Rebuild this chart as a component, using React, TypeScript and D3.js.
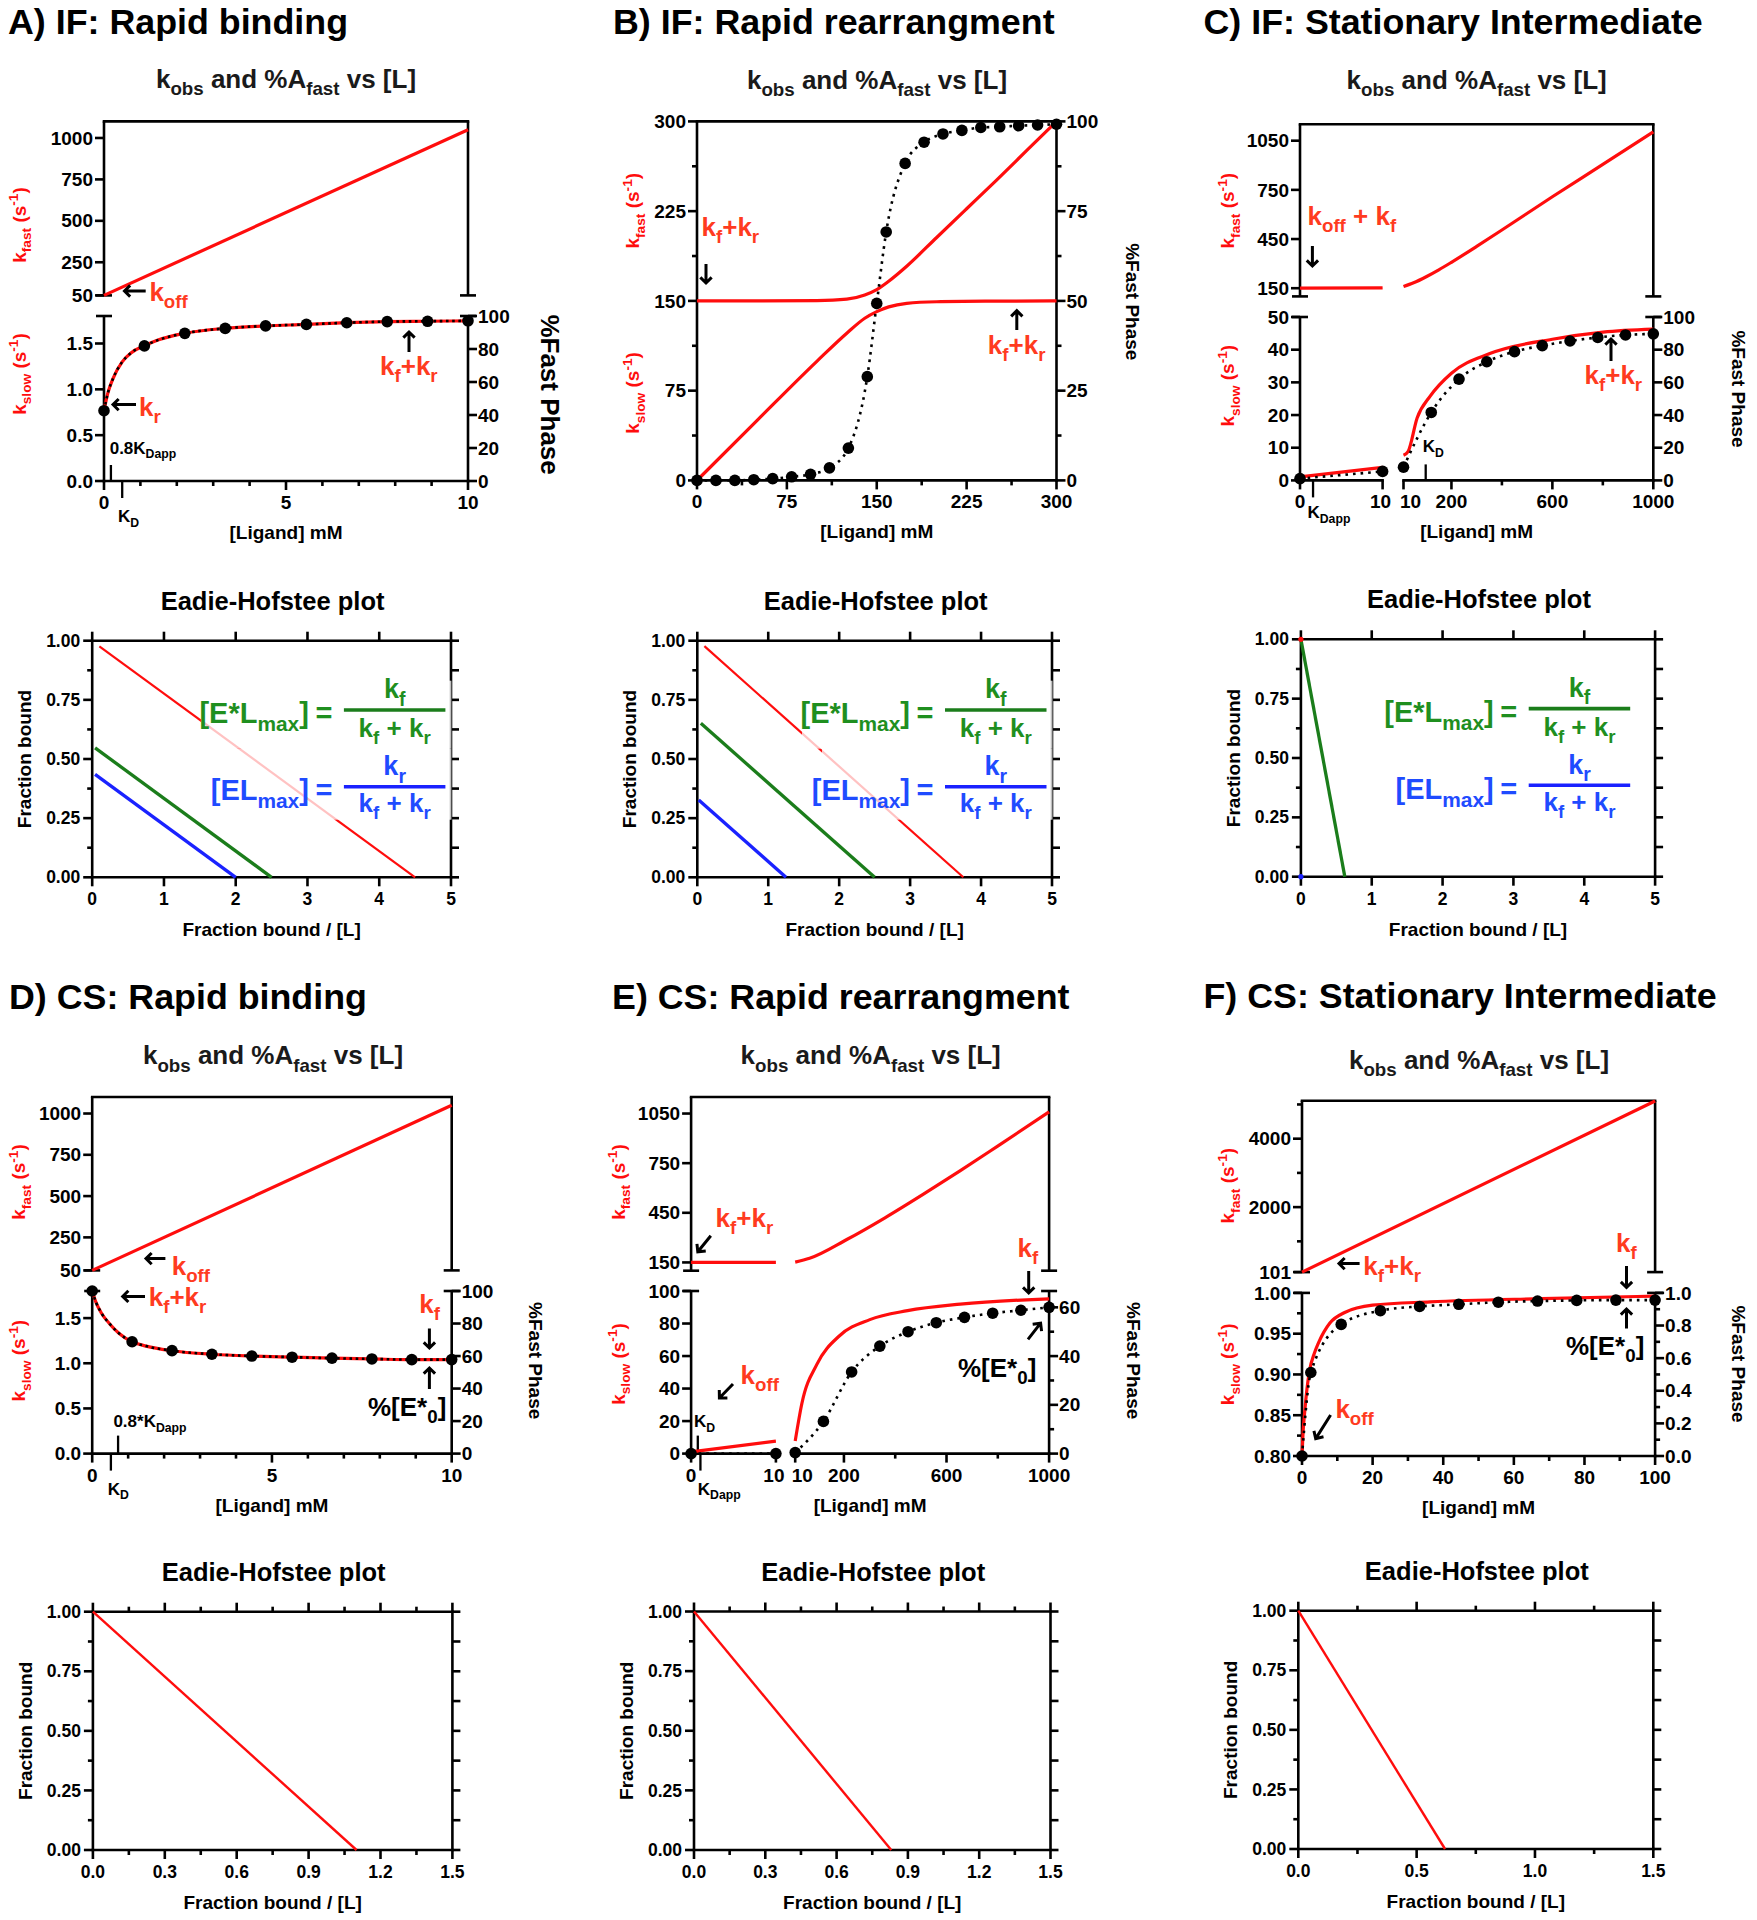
import React, { useEffect } from "react";
import * as d3 from "d3";

type P = [number, number];

// ================= DATA =================
// Panel A — IF: rapid binding
const aFast: P[] = [[0, 50], [10, 1050]];
const aSlow: P[] = [[0, 0.767], [0.1, 0.95], [0.25, 1.12], [0.5, 1.3], [0.75, 1.4], [1.11, 1.475], [1.5, 1.54], [2.22, 1.611], [3.33, 1.665], [4.44, 1.692], [5.56, 1.708], [6.67, 1.727], [7.78, 1.739], [8.89, 1.743], [10, 1.747]];
const aDotL = [0, 1.11, 2.22, 3.33, 4.44, 5.56, 6.67, 7.78, 8.89, 10];
const aDotPct = [42.6, 81.9, 89.5, 92.5, 94.0, 94.9, 95.9, 96.6, 96.8, 97.1];

// Panel B — IF: rapid rearrangement
const bFast: P[] = [[0, 150], [50, 150], [100, 150.3], [125, 151.5], [140, 155], [150, 159.5], [160, 166.5], [175, 179], [200, 203], [225, 227], [250, 251], [275, 275.5], [300, 300]];
const bSlow: P[] = [[0, 0], [50, 50], [100, 99.5], [125, 123], [140, 135.5], [150, 141], [160, 145], [175, 148], [200, 149.3], [250, 149.8], [300, 150]];
const bDotL = [0, 15.79, 31.58, 47.37, 63.16, 78.95, 94.74, 110.53, 126.32, 142.11, 150, 157.89, 173.68, 189.47, 205.26, 221.05, 236.84, 252.63, 268.42, 284.21, 300];
const bDotPct = [0, 0, 0, 0.2, 0.5, 1.0, 1.7, 3.5, 9.0, 28.9, 49.3, 69.2, 88.3, 94.2, 96.5, 97.5, 98.3, 98.5, 98.8, 99.0, 99.2];

// Panel C — IF: stationary intermediate (broken x axis)
const cFastLo: P[] = [[0, 150], [10, 152]];
const cFastHi: P[] = [[10, 160], [50, 183], [100, 220], [150, 262], [200, 308], [300, 405], [400, 505], [600, 708], [800, 905], [1000, 1104]];
const cSlowLo: P[] = [[0, 1.1], [10, 4.0]];
const cSlowHi: P[] = [[10, 7.7], [28, 8.8], [64, 19.1], [115, 25.7], [200, 32.8], [352, 38.8], [600, 43.2], [801, 45.4], [1000, 46.3]];
const cDotLoL = [0, 10];
const cDotLoPct = [1.1, 5.5];
const cDotHiL = [10, 120, 230, 340, 450, 560, 670, 780, 890, 1000];
const cDotHiPct = [8.1, 41.6, 62, 72.6, 78.8, 82.5, 85.3, 87.5, 89, 89.7];

// Panel D — CS: rapid binding
const dFast: P[] = [[0, 50], [10, 1050]];
const dSlow: P[] = [[0, 1.8], [0.1, 1.68], [0.25, 1.56], [0.5, 1.43], [0.75, 1.33], [1.11, 1.238], [1.5, 1.19], [2.22, 1.139], [3.33, 1.1], [4.44, 1.08], [5.56, 1.068], [6.67, 1.056], [7.78, 1.048], [8.89, 1.04], [10, 1.04]];
const dDotL = [0, 1.11, 2.22, 3.33, 4.44, 5.56, 6.67, 7.78, 8.89, 10];
const dDotPct = [100, 68.8, 63.3, 61.1, 60.0, 59.3, 58.7, 58.2, 57.8, 57.8];

// Panel E — CS: rapid rearrangement (broken x axis)
const eFastLo: P[] = [[0, 150], [10, 150]];
const eFastHi: P[] = [[10, 152], [66, 175], [213, 290], [360, 420], [507, 560], [654, 705], [801, 855], [1000, 1060]];
const eSlowLo: P[] = [[0, 1.1], [10, 7.7]];
const eSlowHi: P[] = [[10, 7.7], [36, 30.8], [95, 55], [183, 72.5], [301, 82.4], [448, 87.9], [654, 91.9], [1000, 95.2]];
const eDotLoL = [0, 10];
const eDotLoPct = [0, 0];
const eDotHiL = [10, 120, 230, 340, 450, 560, 670, 780, 890, 1000];
const eDotHiPct = [0.4, 13.2, 33.5, 44.1, 50, 53.7, 55.9, 57.6, 58.8, 60];

// Panel F — CS: stationary intermediate
const fFast: P[] = [[0, 101], [100, 5100]];
const fSlow: P[] = [[0, 0.8], [0.3, 0.829], [0.7, 0.851], [1.4, 0.882], [2.1, 0.904], [3.5, 0.926], [4.7, 0.939], [7.9, 0.963], [12.1, 0.976], [20, 0.985], [36.3, 0.989], [67.9, 0.993], [100, 0.996]];
const fDotL = [0, 2.5, 11.1, 22.2, 33.3, 44.4, 55.6, 66.7, 77.8, 88.9, 100];
const fDotFrac = [0, 0.512, 0.807, 0.891, 0.917, 0.93, 0.943, 0.95, 0.954, 0.956, 0.956];

// Eadie-Hofstee lines
const ehARed: P[] = [[0.1, 0.976], [4.5, 0]];
const ehAGreen: P[] = [[0.04, 0.547], [2.5, 0]];
const ehABlue: P[] = [[0.04, 0.435], [2.0, 0]];
const ehBRed: P[] = [[0.1, 0.977], [3.75, 0]];
const ehBGreen: P[] = [[0.05, 0.651], [2.5, 0]];
const ehBBlue: P[] = [[0.02, 0.327], [1.25, 0]];
const ehCGreen: P[] = [[0, 1.0], [0.62, 0]];
const ehCRedPt: P[] = [[0, 1]];
const ehCBluePt: P[] = [[0, 0]];
const ehDRed: P[] = [[0, 1], [1.1, 0]];
const ehERed: P[] = [[0, 1], [0.83, 0]];
const ehFRed: P[] = [[0, 1], [0.62, 0]];

// Tick values
const tenMajor = [0, 5, 10];
const tenMinor = [1, 2, 3, 4, 6, 7, 8, 9];
const kfastTicks50 = [50, 250, 500, 750, 1000];
const kfastTicks150 = [150, 450, 750, 1050];
const kslowTicks18 = [0, 0.5, 1, 1.5];
const pctTicks = [0, 20, 40, 60, 80, 100];
const bTicks = [0, 75, 150, 225, 300];
const bMinor = [37.5, 112.5, 187.5, 262.5];
const bPctTicks = [0, 25, 50, 75, 100];
const bPctMinor = [12.5, 37.5, 62.5, 87.5];
const brokenHiMajor = [10, 200, 600, 1000];
const brokenHiMinor = [400, 800];
const cSlowTicks = [0, 10, 20, 30, 40, 50];
const eSlowTicks = [0, 20, 40, 60, 80, 100];
const ePctTicks = [0, 20, 40, 60];
const ePctMinor = [10, 30, 50];
const fXMajor = [0, 20, 40, 60, 80, 100];
const fXMinor = [10, 30, 50, 70, 90];
const fUpMajor = [101, 2000, 4000];
const fUpMinor = [1000, 3000, 5000];
const fSlowTicks = [0.8, 0.85, 0.9, 0.95, 1.0];
const fSlowMinor = [0.825, 0.875, 0.925, 0.975];
const fFracTicks = [0, 0.2, 0.4, 0.6, 0.8, 1.0];
const fFracMinor = [0.1, 0.3, 0.5, 0.7, 0.9];
const ehYMajor = [0, 0.25, 0.5, 0.75, 1];
const ehYMinor = [0.125, 0.375, 0.625, 0.875];
const eh5Major = [0, 1, 2, 3, 4, 5];
const eh15Major = [0, 0.3, 0.6, 0.9, 1.2, 1.5];
const eh15Minor = [0.15, 0.45, 0.75, 1.05, 1.35];
const ehF15Major = [0, 0.5, 1.0, 1.5];
const ehF15Minor = [0.25, 0.75, 1.25];

// ================= STYLE =================
const FONT = "'Liberation Sans', Arial, Helvetica, sans-serif";
const RED = "#ff0d0d";
const ANN = "#ff3b1f";
const GREEN_L = "#1b7d1b";
const GREEN_T = "#1f8f1f";
const BLUE_L = "#1a22ff";
const BLUE_T = "#1f4bff";
const AX = 2.6;
const TICK_FS = 19;

type RSeg = string | { t: string; sub?: boolean; sup?: boolean };

function Rich({ x, y, size, segs, fill = "#000", anchor = "start", rotate = 0 }: any) {
  let cur = 0;
  const spans = (segs as RSeg[]).map((s, i) => {
    const o = typeof s === "string" ? { t: s } : s;
    const target = o.sub ? size * 0.28 : o.sup ? -size * 0.4 : 0;
    const dy = target - cur;
    cur = target;
    return (
      <tspan key={i} dy={dy} fontSize={o.sub || o.sup ? size * 0.72 : size}>
        {o.t}
      </tspan>
    );
  });
  return (
    <text
      x={x}
      y={y}
      fill={fill}
      textAnchor={anchor}
      fontWeight={700}
      fontFamily={FONT}
      fontSize={size}
      style={{ whiteSpace: "pre" }}
      transform={rotate ? `rotate(${rotate} ${x} ${y})` : undefined}
    >
      {spans}
    </text>
  );
}

function Arrow({ x1, y1, x2, y2, head = 8 }: any) {
  const ang = Math.atan2(y2 - y1, x2 - x1);
  const a1 = ang + Math.PI * 0.75;
  const a2 = ang - Math.PI * 0.75;
  const d = `M${x1},${y1}L${x2},${y2}M${x2 + head * Math.cos(a1)},${y2 + head * Math.sin(a1)}L${x2},${y2}L${x2 + head * Math.cos(a2)},${y2 + head * Math.sin(a2)}`;
  return <path d={d} stroke="#000" strokeWidth={3} fill="none" />;
}

const ann = (x: number, y: number, segs: RSeg[], fill = ANN, size = 26) => <Rich x={x} y={y} size={size} segs={segs} fill={fill} />;

// ================= KINETICS PANEL =================
function Kinetics({ c }: { c: any }) {
  const xs = c.segs.map((s: any) => d3.scaleLinear().domain(s.d).range(s.r));
  const yLo = d3.scaleLinear().domain(c.lo.dom).range([c.lo.bot, c.lo.top]);
  const yRt = d3.scaleLinear().domain(c.rt.dom).range([c.lo.bot, c.lo.top]);
  const yUp = c.up ? d3.scaleLinear().domain(c.up.dom).range([c.up.bot, c.up.top]) : yLo;
  const L = c.L, R = c.R;
  const TL = 9, TM = 5;
  const out: any[] = [];
  let k = 0;
  const seg = (x1: number, y1: number, x2: number, y2: number, w = AX) =>
    out.push(<line key={k++} x1={x1} y1={y1} x2={x2} y2={y2} stroke="#000" strokeWidth={w} />);
  const lab = (x: number, y: number, t: string, anchor: string, dy = "0.35em") =>
    out.push(
      <text key={k++} x={x} y={y} dy={dy} textAnchor={anchor} fontSize={TICK_FS} fontWeight={700} fontFamily={FONT} fill="#000">
        {t}
      </text>
    );

  if (c.up) {
    const u = c.up;
    seg(L - 1.3, u.top, R + 1.3, u.top);
    seg(L, u.top, L, u.bot);
    seg(R, u.top, R, u.bot);
    seg(L - 8, u.bot, L + 8, u.bot);
    seg(R - 8, u.bot, R + 8, u.bot);
    u.ticks.forEach((v: number) => seg(L - TL, yUp(v), L, yUp(v)));
    (u.minor || []).forEach((v: number) => seg(L - TM, yUp(v), L, yUp(v)));
    u.ticks.forEach((v: number) => lab(L - TL - 2, yUp(v), String(v), "end"));
  }
  const lo = c.lo;
  seg(L, lo.top, L, lo.bot + 1.3);
  seg(R, lo.top, R, lo.bot + 1.3);
  if (c.up) {
    seg(L - 8, lo.top, L + 8, lo.top);
    seg(R - 8, lo.top, R + 8, lo.top);
  } else seg(L - 1.3, lo.top, R + 1.3, lo.top);
  lo.ticks.forEach((v: number) => seg(L - TL, yLo(v), L, yLo(v)));
  (lo.minor || []).forEach((v: number) => seg(L - TM, yLo(v), L, yLo(v)));
  lo.ticks.forEach((v: number) => lab(L - TL - 2, yLo(v), lo.fmt(v), "end"));
  c.rt.ticks.forEach((v: number) => seg(R, yRt(v), R + TL, yRt(v)));
  (c.rt.minor || []).forEach((v: number) => seg(R, yRt(v), R + TM, yRt(v)));
  c.rt.ticks.forEach((v: number) => lab(R + TL + 1, yRt(v), c.rt.fmt(v), "start"));

  c.segs.forEach((s: any, i: number) => {
    const x = xs[i];
    seg(s.r[0] - 1.3, lo.bot, s.r[1] + 1.3, lo.bot);
    s.major.forEach((v: number) => seg(x(v), lo.bot, x(v), lo.bot + TL));
    s.minor.forEach((v: number) => seg(x(v), lo.bot, x(v), lo.bot + TM));
    s.major.forEach((v: number, j: number) => lab(x(v) + (s.dx ? s.dx[j] : 0), lo.bot + 28, String(v), "middle", "0"));
  });
  (c.marks || []).forEach((m: any) => {
    const xv = xs[m.seg](m.v);
    seg(xv, lo.bot, xv, lo.bot + m.len, 2.3);
  });

  const gen = (xsc: any, ysc: any) =>
    d3
      .line<P>()
      .x((d) => xsc(d[0]))
      .y((d) => ysc(d[1]))
      .curve(d3.curveMonotoneX);

  c.fast.forEach((pts: P[], i: number) =>
    out.push(<path key={k++} d={gen(xs[i], yUp)(pts) || ""} stroke={RED} strokeWidth={3.2} fill="none" />)
  );
  c.slow.forEach((pts: P[], i: number) =>
    out.push(<path key={k++} d={gen(xs[i], yLo)(pts) || ""} stroke={RED} strokeWidth={3.2} fill="none" />)
  );
  if (c.dottedFollow) {
    c.slow.forEach((pts: P[], i: number) =>
      out.push(<path key={k++} d={gen(xs[i], yLo)(pts) || ""} stroke="#000" strokeWidth={2.6} strokeDasharray="2.6,3.6" fill="none" />)
    );
  } else {
    c.dots.forEach((dd: any, i: number) => {
      const pts: P[] = dd.l.map((l: number, j: number) => [l, dd.v[j]]);
      out.push(<path key={k++} d={gen(xs[i], yRt)(pts) || ""} stroke="#000" strokeWidth={2.6} strokeDasharray="2.6,5" fill="none" />);
    });
  }
  c.dots.forEach((dd: any, i: number) =>
    dd.l.forEach((l: number, j: number) => out.push(<circle key={k++} cx={xs[i](l)} cy={yRt(dd.v[j])} r={5.8} fill="#000" />))
  );

  const lb = c.lab;
  return (
    <g>
      {out}
      <Rich x={lb.lx + 0.35 * 19} y={lb.fastY} size={19} fill={RED} anchor="middle" rotate={-90} segs={["k", { t: "fast", sub: true }, " (s", { t: "-1", sup: true }, ")"]} />
      <Rich x={lb.lx + 0.35 * 19} y={lb.slowY} size={19} fill={RED} anchor="middle" rotate={-90} segs={["k", { t: "slow", sub: true }, " (s", { t: "-1", sup: true }, ")"]} />
      <Rich x={lb.px - 0.35 * lb.psize} y={lb.py} size={lb.psize} fill="#000" anchor="middle" rotate={90} segs={["%Fast Phase"]} />
      <text x={(L + R) / 2} y={lo.bot + 58} textAnchor="middle" fontSize={19} fontWeight={700} fontFamily={FONT}>
        [Ligand] mM
      </text>
      <Rich x={c.sub.x} y={c.sub.y} size={26} fill="#1a1a1a" anchor="middle" segs={["k", { t: "obs", sub: true }, " and %A", { t: "fast", sub: true }, " vs [L]"]} />
    </g>
  );
}

// ================= EADIE-HOFSTEE PANEL =================
function EH({ c }: { c: any }) {
  const x = d3.scaleLinear().domain(c.xDom).range([c.L, c.R]);
  const y = d3.scaleLinear().domain([0, 1]).range([c.B, c.T]);
  const out: any[] = [];
  let k = 0;
  const seg = (x1: number, y1: number, x2: number, y2: number, w = AX) =>
    out.push(<line key={k++} x1={x1} y1={y1} x2={x2} y2={y2} stroke="#000" strokeWidth={w} />);
  const TL = 9, TM = 5;
  seg(c.L - 1.3, c.T, c.R + 1.3, c.T);
  seg(c.L - 1.3, c.B, c.R + 1.3, c.B);
  seg(c.L, c.T, c.L, c.B);
  seg(c.R, c.T, c.R, c.B);
  ehYMajor.forEach((v) => seg(c.L - TL, y(v), c.L, y(v)));
  ehYMinor.forEach((v) => seg(c.L - TM, y(v), c.L, y(v)));
  [...ehYMajor, ...ehYMinor].forEach((v) => seg(c.R, y(v), c.R + 8, y(v)));
  c.xMajor.forEach((v: number) => {
    seg(x(v), c.T - TL, x(v), c.T);
    seg(x(v), c.B, x(v), c.B + TL);
  });
  c.xMinor.forEach((v: number) => {
    seg(x(v), c.T - TM, x(v), c.T);
    seg(x(v), c.B, x(v), c.B + TM);
  });
  const fy = d3.format(".2f");
  ehYMajor.forEach((v) =>
    out.push(
      <text key={k++} x={c.L - 12} y={y(v)} dy="0.35em" textAnchor="end" fontSize={17.5} fontWeight={700} fontFamily={FONT}>
        {fy(v)}
      </text>
    )
  );
  c.xMajor.forEach((v: number) =>
    out.push(
      <text key={k++} x={x(v)} y={c.B + 28} textAnchor="middle" fontSize={17.5} fontWeight={700} fontFamily={FONT}>
        {c.fmt(v)}
      </text>
    )
  );
  const gen = d3
    .line<P>()
    .x((d) => x(d[0]))
    .y((d) => y(d[1]));
  c.lines.forEach((l: any) => out.push(<path key={k++} d={gen(l.pts) || ""} stroke={l.color} strokeWidth={l.w} fill="none" />));
  (c.points || []).forEach((p: any) =>
    p.pts.forEach((d: P) => out.push(<circle key={k++} cx={x(d[0])} cy={y(d[1])} r={2.6} fill={p.color} />))
  );

  let formula = null;
  if (c.bar0 !== undefined) {
    const b0 = c.bar0;
    const bw = 101.5;
    const gb = c.T + 69.3;
    const bb = c.T + 146;
    const cx = b0 + bw / 2;
    formula = (
      <g>
        <rect x={b0 - 143} y={c.T + 40} width={bw + 149} height={68} fill="#fff" opacity={0.75} />
        <rect x={b0 - 123} y={c.T + 108} width={bw + 129} height={71} fill="#fff" opacity={0.75} />
        <Rich x={b0 - 35} y={gb + 13.3} size={29} fill={GREEN_T} anchor="end" segs={["[E*L", { t: "max", sub: true }, "]"]} />
        <Rich x={b0 - 20} y={gb + 13.3} size={29} fill={GREEN_T} anchor="middle" segs={["="]} />
        <line x1={b0} x2={b0 + bw} y1={gb} y2={gb} stroke={GREEN_L} strokeWidth={3.6} />
        <Rich x={cx} y={gb - 11.7} size={27} fill={GREEN_T} anchor="middle" segs={["k", { t: "f", sub: true }]} />
        <Rich x={cx} y={gb + 27} size={26} fill={GREEN_T} anchor="middle" segs={["k", { t: "f", sub: true }, " + k", { t: "r", sub: true }]} />
        <Rich x={b0 - 35} y={bb + 13.3} size={29} fill={BLUE_T} anchor="end" segs={["[EL", { t: "max", sub: true }, "]"]} />
        <Rich x={b0 - 20} y={bb + 13.3} size={29} fill={BLUE_T} anchor="middle" segs={["="]} />
        <line x1={b0} x2={b0 + bw} y1={bb} y2={bb} stroke={BLUE_L} strokeWidth={3.6} />
        <Rich x={cx} y={bb - 11.7} size={27} fill={BLUE_T} anchor="middle" segs={["k", { t: "r", sub: true }]} />
        <Rich x={cx} y={bb + 25.5} size={26} fill={BLUE_T} anchor="middle" segs={["k", { t: "f", sub: true }, " + k", { t: "r", sub: true }]} />
      </g>
    );
  }
  const ycen = (c.T + c.B) / 2;
  return (
    <g>
      {out}
      {formula}
      <text x={(c.L + c.R) / 2 + 1} y={c.T - 31} textAnchor="middle" fontSize={25.5} fontWeight={700} fontFamily={FONT}>
        Eadie-Hofstee plot
      </text>
      <text x={(c.L + c.R) / 2} y={c.B + 59} textAnchor="middle" fontSize={19} fontWeight={700} fontFamily={FONT}>
        Fraction bound / [L]
      </text>
      <text x={c.L - 68 + 0.35 * 19} y={ycen} textAnchor="middle" fontSize={19} fontWeight={700} fontFamily={FONT} transform={`rotate(-90 ${c.L - 68 + 0.35 * 19} ${ycen})`}>
        Fraction bound
      </text>
    </g>
  );
}

// ================= CONFIGS =================
const f1 = d3.format(".1f");
const f2 = d3.format(".2f");
const fs = (v: number) => String(v);

const cfgA = {
  L: 104, R: 468,
  segs: [{ d: [0, 10], r: [104, 468], major: tenMajor, minor: tenMinor }],
  up: { top: 121.4, bot: 295.4, dom: [50, 1100], ticks: kfastTicks50 },
  lo: { top: 316, bot: 481, dom: [0, 1.8], ticks: kslowTicks18, fmt: f1 },
  rt: { dom: [0, 100], ticks: pctTicks, fmt: fs },
  fast: [aFast], slow: [aSlow], dottedFollow: true, dots: [{ l: aDotL, v: aDotPct }],
  marks: [{ seg: 0, v: 0.5, len: 17 }, { seg: 0, v: 0.19, len: -16 }],
  lab: { lx: 19.3, fastY: 225, slowY: 374, px: 550, py: 394.6, psize: 26 },
  sub: { x: 286, y: 88 },
};
const cfgB = {
  L: 697, R: 1056.5,
  segs: [{ d: [0, 300], r: [697, 1056.5], major: bTicks, minor: bMinor }],
  lo: { top: 121.4, bot: 480.4, dom: [0, 300], ticks: bTicks, minor: bMinor, fmt: fs },
  rt: { dom: [0, 100], ticks: bPctTicks, minor: bPctMinor, fmt: fs },
  fast: [bFast], slow: [bSlow], dots: [{ l: bDotL, v: bDotPct }],
  lab: { lx: 632.8, fastY: 210.7, slowY: 392.9, px: 1132.7, py: 301.8, psize: 19 },
  sub: { x: 877, y: 89 },
};
const cfgC = {
  L: 1300, R: 1653.3,
  segs: [
    { d: [0, 10], r: [1300, 1382.6], major: [0, 10], minor: [], dx: [0, -2] },
    { d: [10, 1000], r: [1403.5, 1653.3], major: brokenHiMajor, minor: brokenHiMinor, dx: [7, 0, 0, 0] },
  ],
  up: { top: 124.3, bot: 296.4, dom: [100, 1150], ticks: kfastTicks150 },
  lo: { top: 317, bot: 480.4, dom: [0, 50], ticks: cSlowTicks, fmt: fs },
  rt: { dom: [0, 100], ticks: pctTicks, fmt: fs },
  fast: [cFastLo, cFastHi], slow: [cSlowLo, cSlowHi],
  dots: [{ l: cDotLoL, v: cDotLoPct }, { l: cDotHiL, v: cDotHiPct }],
  marks: [{ seg: 0, v: 1.58, len: 17 }, { seg: 1, v: 98, len: -16 }],
  lab: { lx: 1227.6, fastY: 210.7, slowY: 385.7, px: 1738.8, py: 389, psize: 19 },
  sub: { x: 1476.7, y: 89 },
};
const cfgD = {
  L: 92.2, R: 451.7,
  segs: [{ d: [0, 10], r: [92.2, 451.7], major: tenMajor, minor: tenMinor }],
  up: { top: 1097, bot: 1270.4, dom: [50, 1100], ticks: kfastTicks50 },
  lo: { top: 1291, bot: 1453.6, dom: [0, 1.8], ticks: kslowTicks18, fmt: f1 },
  rt: { dom: [0, 100], ticks: pctTicks, fmt: fs },
  fast: [dFast], slow: [dSlow], dottedFollow: true, dots: [{ l: dDotL, v: dDotPct }],
  marks: [{ seg: 0, v: 0.52, len: 17 }, { seg: 0, v: 0.72, len: -18 }],
  lab: { lx: 18.6, fastY: 1182, slowY: 1360.7, px: 535.3, py: 1360.7, psize: 19 },
  sub: { x: 273, y: 1064.3 },
};
const cfgE = {
  L: 691.1, R: 1049.1,
  segs: [
    { d: [0, 10], r: [691.1, 775.9], major: [0, 10], minor: [], dx: [0, -2] },
    { d: [10, 1000], r: [795.2, 1049.1], major: brokenHiMajor, minor: brokenHiMinor, dx: [7, 0, 0, 0] },
  ],
  up: { top: 1097, bot: 1270.7, dom: [100, 1150], ticks: kfastTicks150 },
  lo: { top: 1291, bot: 1453.6, dom: [0, 100], ticks: eSlowTicks, fmt: fs },
  rt: { dom: [0, 66.7], ticks: ePctTicks, minor: ePctMinor, fmt: fs },
  fast: [eFastLo, eFastHi], slow: [eSlowLo, eSlowHi],
  dots: [{ l: eDotLoL, v: eDotLoPct }, { l: eDotHiL, v: eDotHiPct }],
  marks: [{ seg: 0, v: 0.79, len: -18 }, { seg: 0, v: 1.1, len: 17 }],
  lab: { lx: 617.9, fastY: 1182, slowY: 1364, px: 1133.5, py: 1360.7, psize: 19 },
  sub: { x: 870.7, y: 1064.3 },
};
const cfgF = {
  L: 1302, R: 1655.1,
  segs: [{ d: [0, 100], r: [1302, 1655.1], major: fXMajor, minor: fXMinor }],
  up: { top: 1100.7, bot: 1272.1, dom: [101, 5110], ticks: fUpMajor, minor: fUpMinor },
  lo: { top: 1292.9, bot: 1456, dom: [0.8, 1.0], ticks: fSlowTicks, minor: fSlowMinor, fmt: f2 },
  rt: { dom: [0, 1], ticks: fFracTicks, minor: fFracMinor, fmt: f1 },
  fast: [fFast], slow: [fSlow], dots: [{ l: fDotL, v: fDotFrac }],
  lab: { lx: 1227.6, fastY: 1185.7, slowY: 1364.3, px: 1738.8, py: 1364, psize: 19 },
  sub: { x: 1479, y: 1068.6 },
};

const fd = d3.format("d");
const ehCfgs = [
  { L: 92.2, R: 451, T: 640.7, B: 877.3, xDom: [0, 5], xMajor: eh5Major, xMinor: [], fmt: fd, bar0: 343.9,
    lines: [{ pts: ehARed, color: RED, w: 2.2 }, { pts: ehAGreen, color: GREEN_L, w: 3.3 }, { pts: ehABlue, color: BLUE_L, w: 3.3 }] },
  { L: 697.3, R: 1052, T: 640.7, B: 877.3, xDom: [0, 5], xMajor: eh5Major, xMinor: [], fmt: fd, bar0: 945,
    lines: [{ pts: ehBRed, color: RED, w: 2.2 }, { pts: ehBGreen, color: GREEN_L, w: 3.3 }, { pts: ehBBlue, color: BLUE_L, w: 3.3 }] },
  { L: 1300.9, R: 1655.1, T: 639.3, B: 876.7, xDom: [0, 5], xMajor: eh5Major, xMinor: [], fmt: fd, bar0: 1528.7,
    lines: [{ pts: ehCGreen, color: GREEN_L, w: 3.3 }], points: [{ pts: ehCRedPt, color: RED }, { pts: ehCBluePt, color: BLUE_L }] },
  { L: 92.9, R: 452.4, T: 1611.7, B: 1850, xDom: [0, 1.5], xMajor: eh15Major, xMinor: eh15Minor, fmt: f1,
    lines: [{ pts: ehDRed, color: RED, w: 2.4 }] },
  { L: 694, R: 1050.5, T: 1611.5, B: 1850, xDom: [0, 1.5], xMajor: eh15Major, xMinor: eh15Minor, fmt: f1,
    lines: [{ pts: ehERed, color: RED, w: 2.4 }] },
  { L: 1298.3, R: 1653.3, T: 1610.7, B: 1849, xDom: [0, 1.5], xMajor: ehF15Major, xMinor: ehF15Minor, fmt: f1,
    lines: [{ pts: ehFRed, color: RED, w: 2.4 }] },
];

const titles = [
  { t: "A) IF: Rapid binding", x: 8, y: 34 },
  { t: "B) IF: Rapid rearrangment", x: 613, y: 34 },
  { t: "C) IF: Stationary Intermediate", x: 1203.5, y: 34 },
  { t: "D) CS: Rapid binding", x: 9, y: 1009 },
  { t: "E) CS: Rapid rearrangment", x: 612, y: 1009 },
  { t: "F) CS: Stationary Intermediate", x: 1203.5, y: 1008 },
];

const KF_KR: RSeg[] = ["k", { t: "f", sub: true }, "+k", { t: "r", sub: true }];
const KOFF: RSeg[] = ["k", { t: "off", sub: true }];
const KF: RSeg[] = ["k", { t: "f", sub: true }];
const E0: RSeg[] = ["%[E*", { t: "0", sub: true }, "]"];

export default function App() {
  useEffect(() => {
    document.body.style.margin = "0";
  }, []);
  return (
    <svg width={1757} height={1920} viewBox="0 0 1757 1920" style={{ position: "absolute", left: 0, top: 0, display: "block" }} fontFamily={FONT}>
      <rect width={1757} height={1920} fill="#fff" />
      {titles.map((d, i) => (
        <text key={i} x={d.x} y={d.y} fontSize={35.8} fontWeight={700} fontFamily={FONT} fill="#000">
          {d.t}
        </text>
      ))}
      <Kinetics c={cfgA} />
      <Kinetics c={cfgB} />
      <Kinetics c={cfgC} />
      <Kinetics c={cfgD} />
      <Kinetics c={cfgE} />
      <Kinetics c={cfgF} />
      {ehCfgs.map((c, i) => (
        <EH key={i} c={c} />
      ))}

      {/* Panel A annotations */}
      <Arrow x1={145.7} y1={291} x2={124.5} y2={291} />
      {ann(149.4, 301, KOFF)}
      <Arrow x1={136} y1={404.6} x2={113} y2={404.6} />
      {ann(139, 416, ["k", { t: "r", sub: true }])}
      <Arrow x1={409} y1={352} x2={409} y2={332} />
      {ann(380, 375, KF_KR)}
      {ann(109.7, 453.6, ["0.8K", { t: "Dapp", sub: true }], "#000", 17)}
      {ann(118, 522, ["K", { t: "D", sub: true }], "#000", 17)}

      {/* Panel B annotations */}
      {ann(701.5, 235.7, KF_KR)}
      <Arrow x1={706} y1={264} x2={706} y2={283} />
      <Arrow x1={1016.8} y1={330} x2={1016.8} y2={310.7} />
      {ann(987.8, 353.6, KF_KR)}

      {/* Panel C annotations */}
      {ann(1307.5, 225, ["k", { t: "off", sub: true }, " + k", { t: "f", sub: true }])}
      <Arrow x1={1312.4} y1={246} x2={1312.4} y2={266} />
      <Arrow x1={1611} y1={361} x2={1611} y2={339} />
      {ann(1584.5, 384, KF_KR)}
      {ann(1422.8, 451.8, ["K", { t: "D", sub: true }], "#000", 17)}
      {ann(1307.5, 518, ["K", { t: "Dapp", sub: true }], "#000", 17)}

      {/* Panel D annotations */}
      <Arrow x1={165.4} y1={1258.6} x2={146} y2={1258.6} />
      {ann(171.7, 1274.5, KOFF)}
      <Arrow x1={145} y1={1296.4} x2={122.7} y2={1296.4} />
      {ann(148.7, 1306, KF_KR)}
      {ann(419.3, 1312.5, KF)}
      <Arrow x1={429.4} y1={1328.6} x2={429.4} y2={1348} />
      <Arrow x1={429.4} y1={1389} x2={429.4} y2={1368} />
      {ann(368, 1416, E0, "#000")}
      {ann(113.4, 1426.8, ["0.8*K", { t: "Dapp", sub: true }], "#000", 17)}
      {ann(107.8, 1494.6, ["K", { t: "D", sub: true }], "#000", 17)}

      {/* Panel E annotations */}
      {ann(715.6, 1226.8, KF_KR)}
      <Arrow x1={710.8} y1={1235.7} x2={697.8} y2={1251.8} />
      {ann(1017.5, 1257, KF)}
      <Arrow x1={1028.7} y1={1271} x2={1028.7} y2={1293} />
      {ann(740.6, 1384, KOFF)}
      <Arrow x1={733} y1={1384} x2={719.4} y2={1398} />
      <Arrow x1={1028} y1={1339.3} x2={1040.6} y2={1323.2} />
      {ann(958, 1376.8, E0, "#000")}
      {ann(694, 1426.8, ["K", { t: "D", sub: true }], "#000", 17)}
      {ann(697.8, 1494.6, ["K", { t: "Dapp", sub: true }], "#000", 17)}

      {/* Panel F annotations */}
      <Arrow x1={1359.6} y1={1263.6} x2={1339} y2={1263.6} />
      {ann(1363.3, 1275, KF_KR)}
      {ann(1616, 1251.8, KF)}
      <Arrow x1={1626.5} y1={1266} x2={1626.5} y2={1287.5} />
      <Arrow x1={1626.5} y1={1328.6} x2={1626.5} y2={1309} />
      {ann(1566, 1355, E0, "#000")}
      {ann(1335.4, 1417.9, KOFF)}
      <Arrow x1={1330.6} y1={1415} x2={1315.7} y2={1438.6} />
    </svg>
  );
}
